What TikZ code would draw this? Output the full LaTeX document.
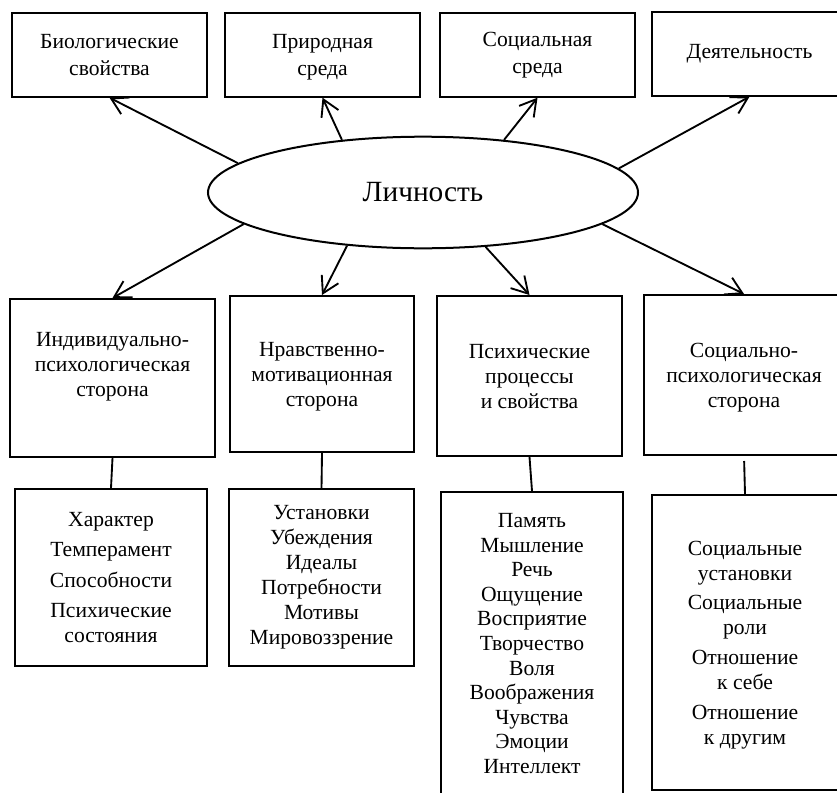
\documentclass[tikz,border=0pt]{standalone}
\usepackage{fontspec}
\setmainfont{Liberation Serif}
\usetikzlibrary{shapes.geometric,arrows.meta}

\begin{document}
\begin{tikzpicture}[x=0.75pt,y=-0.75pt,
  box/.style={draw,line width=1.5pt,align=center,inner sep=0pt,font=\fontsize{16.2}{18.75}\selectfont},
  arr/.style={line width=1.4pt,-{Straight Barb[length=12pt,width=14pt]}},
  link/.style={line width=1.4pt}]
  \useasboundingbox (0,0) rectangle (837,792);
  \node[box,minimum width=146.25pt,minimum height=63pt,text depth=0pt] (bio) at (109.5,54.7) {Биологические\\[1.5pt]свойства};
  \node[box,minimum width=146.25pt,minimum height=63pt,text depth=0pt] (prir) at (322.5,54.7) {Природная\\[1.5pt]среда};
  \node[box,minimum width=146.25pt,minimum height=63pt] (soc) at (537.5,54.7) {Социальная\\[1.5pt]среда};
  \node[box,minimum width=146.25pt,minimum height=63pt] (deyat) at (749.5,53.7) {Деятельность};
  \node[draw,ellipse,line width=1.5pt,inner sep=0pt,minimum width=322.5pt,minimum height=83.7pt,font=\fontsize{22}{26}\selectfont] (lich) at (423,192.5) {Личность};

  \node[box,minimum width=153.75pt,minimum height=118.5pt,text depth=21pt] (ind) at (112.5,378) {Индивидуально-\\психологическая\\сторона};
  \node[box,minimum width=138pt,minimum height=117pt,text depth=0pt] (nrav) at (322,374) {Нравственно-\\мотивационная\\сторона};
  \node[box,minimum width=138.75pt,minimum height=120pt,text depth=0pt] (psih) at (529.5,376) {Психические\\процессы\\и свойства};
  \node[box,minimum width=150pt,minimum height=120pt,text depth=0pt] (socps) at (744,375) {Социально-\\психологическая\\сторона};

  \node[box,minimum width=144pt,minimum height=132.75pt] (char) at (111,577.5) {Характер\\[4pt]Темперамент\\[4pt]Способности\\[4pt]Психические\\состояния};
  \node[box,minimum width=138.75pt,minimum height=132.75pt] (ustan) at (321.5,577.5) {Установки\\Убеждения\\Идеалы\\Потребности\\Мотивы\\Мировоззрение};
  \node[box,minimum width=136.5pt,minimum height=227.25pt,font=\fontsize{16.2}{18.4}\selectfont] (pamyat) at (532,643.5) {Память\\Мышление\\Речь\\Ощущение\\Восприятие\\Творчество\\Воля\\Воображения\\Чувства\\Эмоции\\Интеллект};
  \node[box,minimum width=139.5pt,minimum height=221.25pt,text depth=0pt] (otnosh) at (745,642.5) {Социальные\\установки\\[3.5pt]Социальные\\роли\\[3.5pt]Отношение\\к себе\\[3.5pt]Отношение\\к другим};

  \draw[arr] (lich.171.5) -- (bio.south);
  \draw[arr] (lich.147.4) -- (prir.south);
  \draw[arr] (lich.33.8) -- (soc.south);
  \draw[arr] (lich.7.5) -- (deyat.south);
  \draw[arr] (lich.-170.7) -- (ind.north);
  \draw[arr] (lich.-145.2) -- (nrav.north);
  \draw[arr] (lich.-41) -- (psih.north);
  \draw[arr] (lich.-10.2) -- (socps.north);

  \draw[link] (ind.south) -- (char.north);
  \draw[link] (nrav.south) -- (ustan.north);
  \draw[link] (psih.south) -- (pamyat.north);
  \draw[link,shorten <=3.75pt] (socps.south) -- (otnosh.north);
\end{tikzpicture}
\end{document}
